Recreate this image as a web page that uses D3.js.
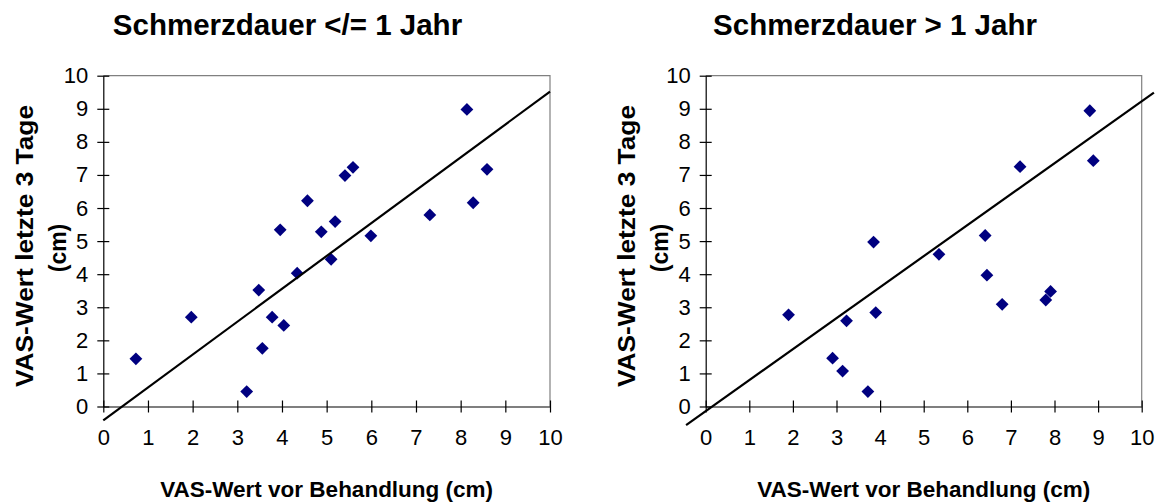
<!DOCTYPE html>
<html>
<head>
<meta charset="utf-8">
<script src="https://cdn.jsdelivr.net/npm/d3@7/dist/d3.min.js"></script>
<style>
  html, body { margin: 0; padding: 0; background: #fff; }
  svg { display: block; }
  text { font-family: "Liberation Sans", Arial, sans-serif; fill: #000; }
</style>
</head>
<body>
<svg id="chart" width="1164" height="504"></svg>
<script>
// ---- Data ----
const titles = ["Schmerzdauer </= 1 Jahr", "Schmerzdauer > 1 Jahr"];
const xAxisTitle = "VAS-Wert vor Behandlung (cm)";
const yAxisTitleLines = ["VAS-Wert letzte 3 Tage", "(cm)"];
const tickValues = [0, 1, 2, 3, 4, 5, 6, 7, 8, 9, 10];

const leftX = [0.73, 1.97, 3.21, 3.48, 3.56, 3.78, 3.96, 4.04, 4.34, 4.57, 4.88, 5.10, 5.19, 5.41, 5.59, 5.99, 7.31, 8.14, 8.28, 8.59];
const leftY = [1.44, 2.70, 0.45, 3.52, 1.76, 2.70, 5.34, 2.45, 4.03, 6.22, 5.28, 4.45, 5.59, 6.98, 7.23, 5.16, 5.79, 8.98, 6.16, 7.17];

const rightX = [1.90, 2.91, 3.14, 3.23, 3.72, 3.85, 3.90, 5.35, 6.41, 6.45, 6.80, 7.21, 7.80, 7.91, 8.81, 8.89];
const rightY = [2.77, 1.46, 1.07, 2.59, 0.45, 4.97, 2.84, 4.60, 5.17, 3.97, 3.09, 7.25, 3.22, 3.48, 8.94, 7.43];

// fitted lines (start and end points in data units)
const leftLineX = [0, 10];
const leftLineY = [-0.42, 9.52];
const rightLineX = [-0.45, 10.28];
const rightLineY = [-0.56, 9.49];

// ---- Layout ----
const svg = d3.select("#chart");
const panels = [
  { title: titles[0], xs: leftX, ys: leftY, lx: leftLineX, ly: leftLineY,
    x0: 103.3, x1: 550, titleX: 287.5, yTitleX: 33 },
  { title: titles[1], xs: rightX, ys: rightY, lx: rightLineX, ly: rightLineY,
    x0: 705.7, x1: 1141.7, titleX: 875, yTitleX: 635.4 }
];
const yTop = 75.7, yBottom = 406.5;

panels.forEach(p => {
  const g = svg.append("g");
  const x = d3.scaleLinear().domain([0, 10]).range([p.x0, p.x1]);
  const y = d3.scaleLinear().domain([0, 10]).range([yBottom, yTop]);

  // plot area border (top & right, gray)
  g.append("path")
    .attr("d", `M${p.x0},${yTop}H${p.x1}V${yBottom}`)
    .attr("fill", "none").attr("stroke", "#808080").attr("stroke-width", 1.2);

  // y axis
  const yAx = g.append("g").attr("transform", `translate(${p.x0},0)`)
    .call(d3.axisLeft(y).tickValues(tickValues).tickSize(6).tickPadding(9).tickSizeOuter(0));
  yAx.select(".domain").attr("stroke", "#000").attr("stroke-width", 1.2);
  yAx.selectAll(".tick line").attr("x1", 6).attr("x2", -6).attr("stroke", "#000").attr("stroke-width", 1.2);
  yAx.selectAll(".tick text").attr("font-size", 22).attr("font-family", "Liberation Sans, Arial, sans-serif").attr("fill", "#000");

  // x axis
  const xAx = g.append("g").attr("transform", `translate(0,${yBottom})`)
    .call(d3.axisBottom(x).tickValues(tickValues).tickSize(6).tickPadding(17).tickSizeOuter(0));
  xAx.select(".domain").attr("stroke", "#000").attr("stroke-width", 1.2);
  xAx.selectAll(".tick line").attr("y1", -6).attr("y2", 6).attr("stroke", "#000").attr("stroke-width", 1.2);
  xAx.selectAll(".tick text").attr("font-size", 22).attr("font-family", "Liberation Sans, Arial, sans-serif").attr("fill", "#000");

  // points (diamonds)
  const pts = p.xs.map((v, i) => [v, p.ys[i]]);
  const r = 6.4;
  g.selectAll("path.pt").data(pts).enter().append("path")
    .attr("class", "pt")
    .attr("d", d => {
      const cx = x(d[0]), cy = y(d[1]);
      return `M${cx},${cy - r}L${cx + r},${cy}L${cx},${cy + r}L${cx - r},${cy}Z`;
    })
    .attr("fill", "#000080");

  // fitted line
  const linePts = p.lx.map((v, i) => [v, p.ly[i]]);
  g.append("path")
    .datum(linePts)
    .attr("d", d3.line().x(d => x(d[0])).y(d => y(d[1])))
    .attr("fill", "none").attr("stroke", "#000").attr("stroke-width", 2.2);

  // chart title
  g.append("text")
    .attr("x", p.titleX).attr("y", 35)
    .attr("text-anchor", "middle")
    .attr("font-weight", "bold").attr("font-size", 29.5)
    .text(p.title);

  // x axis title
  g.append("text")
    .attr("x", (p.x0 + p.x1) / 2).attr("y", 497)
    .attr("text-anchor", "middle")
    .attr("font-weight", "bold").attr("font-size", 22.5)
    .text(xAxisTitle);

  // y axis title (two lines, rotated)
  yAxisTitleLines.forEach((t, i) => {
    const bx = p.yTitleX + i * 33;
    const txt = g.append("text")
      .attr("transform", `translate(${bx},${i === 0 ? 246 : 248}) rotate(-90)`)
      .attr("text-anchor", "middle")
      .attr("font-weight", "bold").attr("font-size", i === 0 ? 24 : 23)
      .text(t);
    if (i === 0) txt.attr("textLength", 282).attr("lengthAdjust", "spacingAndGlyphs");
  });
});
</script>
</body>
</html>
